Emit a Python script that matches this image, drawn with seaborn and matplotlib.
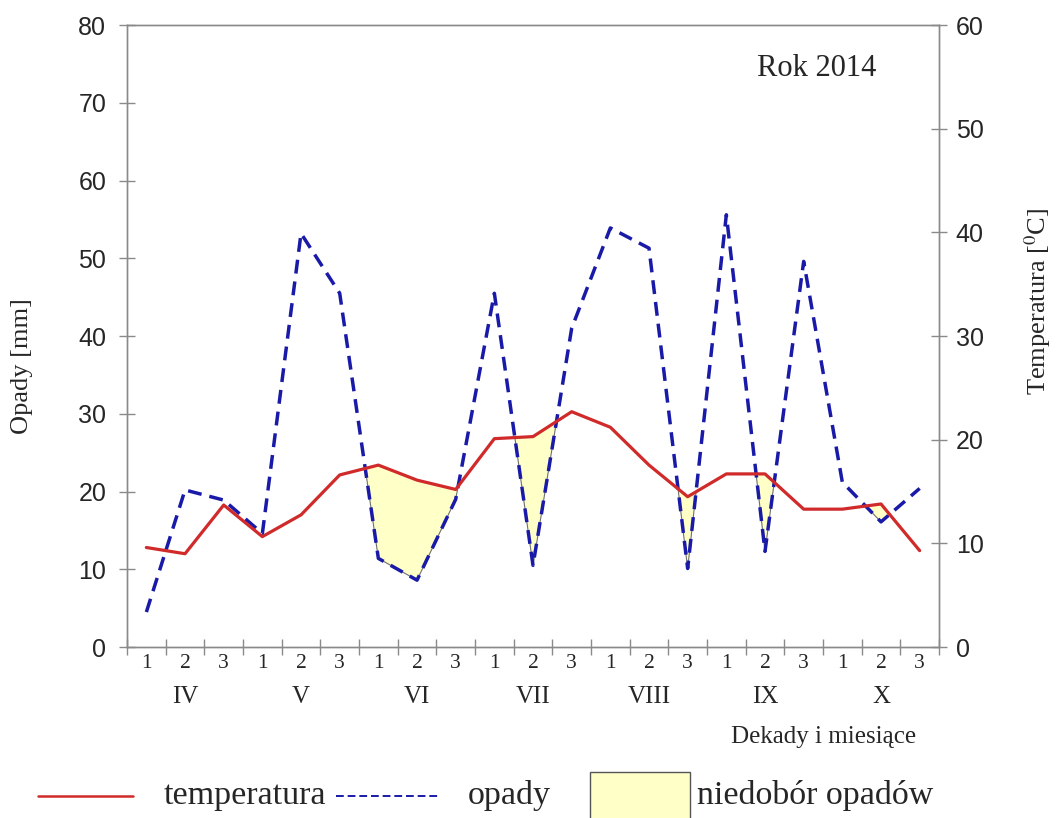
import matplotlib
matplotlib.use("Agg")
import matplotlib.pyplot as plt
import seaborn as sns
import pandas as pd
from matplotlib.lines import Line2D
from matplotlib.patches import Rectangle

# dane (rok 2014, dekady IV-X)
miesiace = ["IV", "V", "VI", "VII", "VIII", "IX", "X"]
dekady = ["1", "2", "3"] * 7
temperatura = [9.6, 9.0, 13.7, 10.65, 12.75, 16.6, 17.55, 16.1, 15.2, 20.1, 20.3,
               22.7, 21.2, 17.55, 14.5, 16.7, 16.7, 13.3, 13.3, 13.8, 9.3]
opady = [4.5, 20.2, 18.9, 14.6, 53.2, 45.5, 11.4, 8.6, 19.0, 45.5, 10.5,
         41.0, 53.9, 51.3, 10.1, 55.6, 12.3, 49.6, 21.2, 16.1, 20.4]
niedobor = [0, 0, 0, 0, 0, 0, 1, 1, 1, 0, 1, 0, 0, 0, 1, 0, 1, 0, 0, 1, 0]

OPADY_MAX = 80
TEMP_MAX = 60

df = pd.DataFrame({"dekada": range(len(dekady)), "temperatura": temperatura, "opady": opady})
df["temp_mm"] = df["temperatura"] * OPADY_MAX / TEMP_MAX

sns.set_style("ticks")
plt.rcParams["font.family"] = ["Liberation Serif", "DejaVu Serif"]
plt.rcParams["mathtext.fontset"] = "stix"

fig = plt.figure(figsize=(10.56, 8.18), dpi=100)
ax = fig.add_axes([0.1203, 0.2090, 0.7689, 0.7604])
ax2 = ax.twinx()

czerwony = "#d02a2a"
niebieski = "#1a1aa8"
szary = "#8a8a8a"

# niedobor opadow
ax.fill_between(df["dekada"], df["opady"], df["temp_mm"], where=[bool(v) for v in niedobor],
                interpolate=True, facecolor="#ffffc8", edgecolor="#6f6f6f", linewidth=0.8, zorder=1)

sns.lineplot(data=df, x="dekada", y="opady", ax=ax, color=niebieski, linewidth=2.5,
             linestyle="--", zorder=3)
ax.lines[-1].set_dashes([4, 2.3])
sns.lineplot(data=df, x="dekada", y="temperatura", ax=ax2, color=czerwony, linewidth=2.3, zorder=3)

ax.set_xlim(-0.5, len(dekady) - 0.5)
ax.set_ylim(0, OPADY_MAX)
ax2.set_ylim(0, TEMP_MAX)

ax.set_yticks(range(0, OPADY_MAX + 1, 10))
ax2.set_yticks(range(0, TEMP_MAX + 1, 10))
ax.set_xticks(df["dekada"])
ax.set_xticklabels(dekady)
ax.set_xticks([i - 0.5 for i in range(len(dekady) + 1)], minor=True)

for a in (ax, ax2):
    for s in a.spines.values():
        s.set_color(szary)
        s.set_linewidth(1.0)
        s.set_visible(True)

ax.tick_params(axis="x", which="major", length=0, pad=5, labelsize=15.5)
ax.tick_params(axis="x", which="minor", direction="inout", length=11.5, color=szary, width=1)
ax.tick_params(axis="y", direction="inout", length=12, color=szary, width=1, pad=9,
               labelsize=18, labelfontfamily="Liberation Sans")
ax2.tick_params(axis="y", direction="inout", length=12, color=szary, width=1, pad=6,
                labelsize=18, labelfontfamily="Liberation Sans")

ax.set_xlabel("")
ax.set_ylabel("Opady [mm]", fontsize=19)
ax.yaxis.set_label_coords(-0.116, 0.452)
ax2.set_ylabel("Temperatura [$^{0}$C]", fontsize=19)
ax2.yaxis.set_label_coords(1.102, 0.555)

for k, m in enumerate(miesiace):
    ax.text(3 * k + 1, -0.08, m, transform=ax.get_xaxis_transform(), ha="center", va="center", fontsize=18)

ax.text(0.849, 0.93, "Rok 2014", transform=ax.transAxes, ha="center", va="center", fontsize=22)
fig.text(0.780, 0.099, "Dekady i miesiące", ha="center", va="center", fontsize=18)

# legenda
ly = 0.027
fig.add_artist(Line2D([0.036, 0.126], [ly, ly], color=czerwony, linewidth=1.8, transform=fig.transFigure))
fig.text(0.155, ly, "temperatura", ha="left", va="center", fontsize=24.5)
fig.add_artist(Line2D([0.318, 0.417], [ly, ly], color=niebieski, linewidth=1.4, linestyle=(0, (4, 2)),
                      transform=fig.transFigure))
fig.text(0.443, ly, "opady", ha="left", va="center", fontsize=24.5)
fig.add_artist(Rectangle((0.559, -0.01), 0.094, 0.066, facecolor="#ffffc8", edgecolor="#555555",
                         linewidth=1.0, transform=fig.transFigure))
fig.text(0.66, ly, "niedobór opadów", ha="left", va="center", fontsize=24.5)

fig.savefig("out.png", dpi=100)
